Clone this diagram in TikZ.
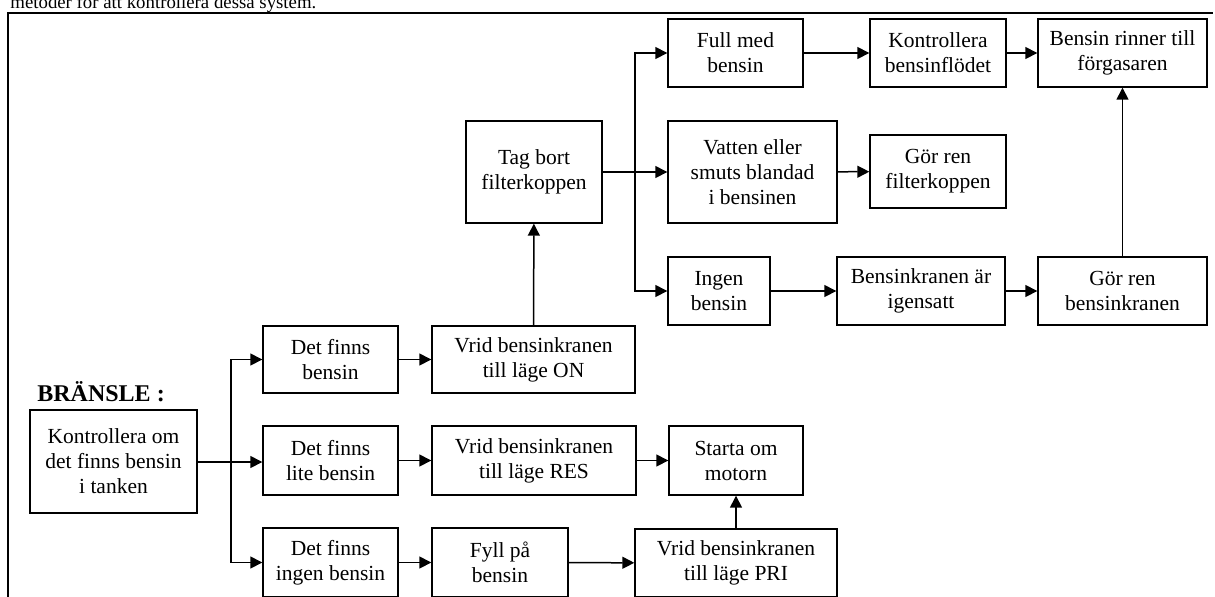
\documentclass[tikz,border=0pt]{standalone}
\usepackage{fontspec}
\setmainfont{Liberation Serif}
\usetikzlibrary{arrows.meta}
\begin{document}
\begin{tikzpicture}[x=0.5pt,y=-0.5pt,
 box/.style={draw, line width=0.7pt, align=center, inner sep=0pt, font=\fontsize{10.75}{12.5}\selectfont},
 arr/.style={line width=0.75pt, -{Triangle[length=6pt,width=6pt]}},
 ln/.style={line width=0.75pt},
 frame/.style={line width=1.3pt},
 ]
\clip (0,0) rectangle (1215,596);
% top text (cut off by the page edge, as in the source)
\node[anchor=base west, inner sep=0pt, font=\fontsize{9.4}{11}\selectfont] (top) at (10,8) {metoder för att kontrollera dessa system.};
\draw[frame] (8,600) -- (8,13) -- (1213,13);
\node[anchor=base west, inner sep=0pt, font=\bfseries\fontsize{12}{14}\selectfont] (title) at (37,401) {BRÄNSLE :};
% boxes
\node[box, minimum width=83.5pt, minimum height=51.5pt] (K) at (113.5,461.5) {Kontrollera om\\det finns bensin\\i tanken};
\node[box, minimum width=67.5pt, minimum height=33.5pt] (DB) at (330.5,359.5) {Det finns\\bensin};
\node[box, minimum width=67.5pt, minimum height=34.5pt] (DL) at (330.5,460.5) {Det finns\\lite bensin};
\node[box, minimum width=67.5pt, minimum height=34.5pt] (DI) at (330.5,562.5) {Det finns\\ingen bensin};
\node[box, minimum width=101.5pt, minimum height=33.5pt] (VON) at (533.5,359.5) {Vrid bensinkranen\\till läge ON};
\node[box, minimum width=102pt, minimum height=34.5pt] (VRES) at (534,460.5) {Vrid bensinkranen\\till läge RES};
\node[box, minimum width=68pt, minimum height=34.5pt] (FP) at (500,562.5) {Fyll på\\bensin};
\node[box, minimum width=101pt, minimum height=34pt] (VPRI) at (736,563) {Vrid bensinkranen\\till läge PRI};
\node[box, minimum width=67pt, minimum height=34.5pt] (SM) at (736,460.5) {Starta om\\motorn};
\node[box, minimum width=68pt, minimum height=51pt] (TB) at (534,172) {Tag bort\\filterkoppen};
\node[box, minimum width=67.5pt, minimum height=34pt] (FM) at (735.5,53) {Full med\\bensin};
\node[box, minimum width=84.5pt, minimum height=51pt] (VS) at (752.5,172) {Vatten eller\\smuts blandad\\i bensinen};
\node[box, minimum width=51pt, minimum height=34pt] (IB) at (719,291) {Ingen\\bensin};
\node[box, minimum width=68pt, minimum height=34pt] (KB) at (938,53) {Kontrollera\\bensinflödet};
\node[box, minimum width=84.5pt, minimum height=34pt] (BR) at (1122.5,53) {Bensin rinner till\\förgasaren};
\node[box, minimum width=68pt, minimum height=36.5pt] (GF) at (938,171.5) {Gör ren\\filterkoppen};
\node[box, minimum width=84pt, minimum height=34pt] (BI) at (921,291) {Bensinkranen är\\igensatt};
\node[box, minimum width=84.5pt, minimum height=34pt] (GB) at (1122.5,291) {Gör ren\\bensinkranen};
% junctions
\coordinate (j1) at (231,462);
\coordinate (j2) at (635,172);
% connectors
\draw[arr] (K.east |- j1) -- (DL.west |- j1);
\draw[arr] (j1) |- (DB.west);
\draw[arr] (j1) |- (DI.west);
\draw[arr] (DB) -- (VON);
\draw[arr] (DL) -- (VRES);
\draw[arr] (VRES) -- (SM);
\draw[arr] (DI) -- (FP);
\draw[arr] (FP) -- (VPRI);
\draw[arr] (VPRI) -- (SM);
\draw[arr] (VON) -- (TB);
\draw[arr] (TB) -- (VS);
\draw[arr] (j2) |- (FM.west);
\draw[arr] (j2) |- (IB.west);
\draw[arr] (FM) -- (KB);
\draw[arr] (KB) -- (BR);
\draw[arr] (VS) -- (GF);
\draw[arr] (IB) -- (BI);
\draw[arr] (BI) -- (GB);
\draw[arr] (GB) -- (BR);
\end{tikzpicture}
\end{document}
